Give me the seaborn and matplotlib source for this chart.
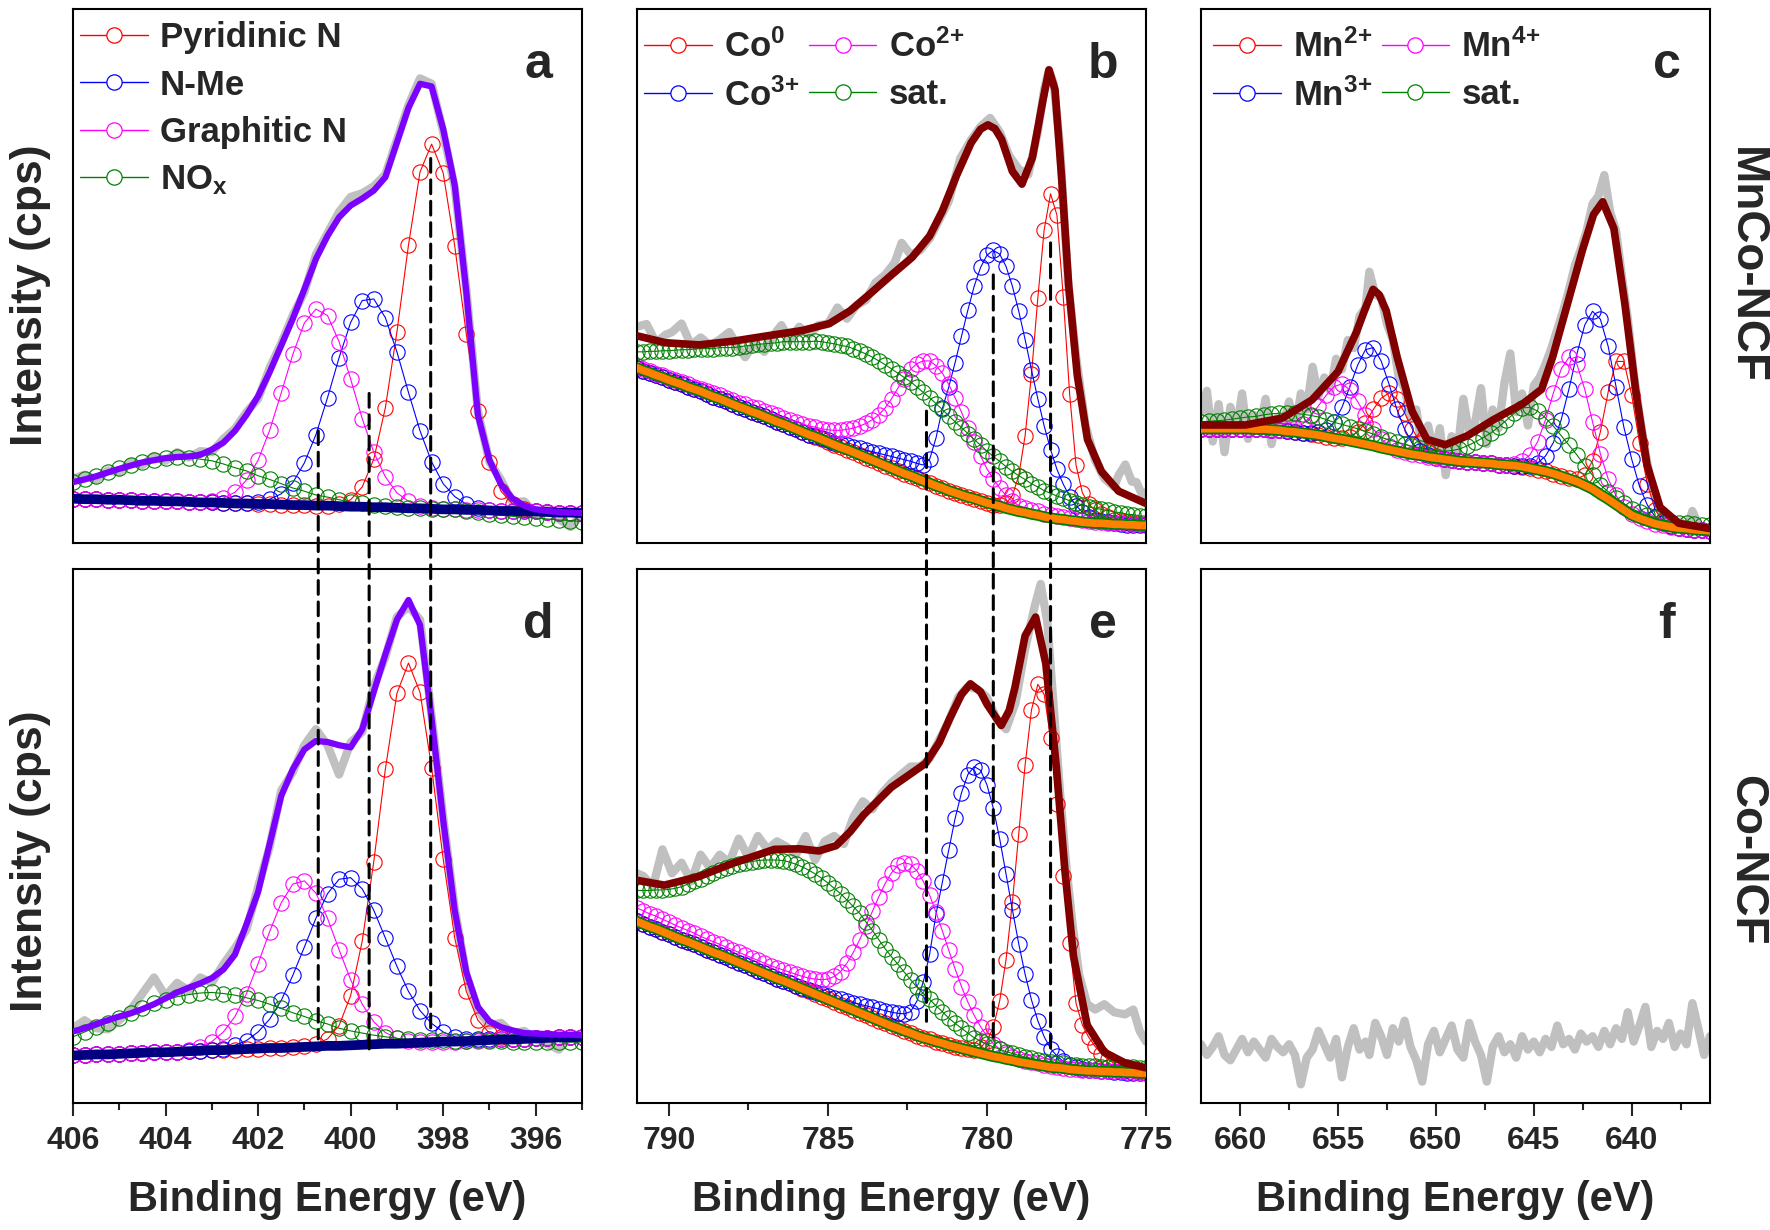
import numpy as np
import matplotlib
matplotlib.use("Agg")
import matplotlib.pyplot as plt
import matplotlib.patheffects as pe
from matplotlib.lines import Line2D
from matplotlib.patches import ConnectionPatch
import seaborn as sns

# ---------------------------------------------------------------
# data (intensity in % of the panel height)
# ---------------------------------------------------------------
# sampling energies of the fitted components
n_grid = np.linspace(406, 395, 45)    # N 1s, 0.25 eV
co_grid = np.linspace(791, 775, 81)   # Co 2p, 0.2 eV
mn_grid = np.linspace(662, 636, 66)   # Mn 2p, 0.4 eV

# --- a: N 1s, MnCo-NCF (component heights are above the background)
n_bg_a = [8.3, 8.2, 8.2, 8.1, 8.1, 8.0, 7.9, 7.9, 7.8, 7.8, 7.7, 7.6, 7.6, 7.5, 7.4,
          7.4, 7.3, 7.3, 7.2, 7.1, 7.1, 7.0, 7.0, 6.9, 6.8, 6.8, 6.7, 6.7, 6.6, 6.5,
          6.5, 6.4, 6.3, 6.3, 6.2, 6.2, 6.1, 6.0, 6.0, 5.9, 5.9, 5.8, 5.7, 5.7, 5.6]
n_pyr_a = [0, 0, 0, 0, 0, 0, 0, 0, 0, 0, 0, 0, 0, 0, 0, 0, 0, 0, 0, 0, 0, 0, 0,
           0.4, 1.3, 3.7, 9.0, 18.6, 32.9, 49.3, 63.0, 68.3, 63.0, 49.3, 32.9, 18.6,
           9.0, 3.7, 1.3, 0.4, 0.1, 0, 0, 0, 0]
n_nme_a = [0, 0, 0, 0, 0, 0, 0, 0, 0, 0, 0, 0, 0, 0, 0, 0.1, 0.35, 0.9, 2.0, 4.2,
           7.9, 13.3, 20.2, 27.8, 34.5, 38.6, 39.0, 35.5, 29.2, 21.7, 14.5, 8.8, 4.8,
           2.4, 1.05, 0.4, 0.15, 0, 0, 0, 0, 0, 0, 0, 0]
n_gra_a = [0, 0, 0, 0, 0, 0, 0, 0, 0, 0, 0, 0.1, 0.3, 0.9, 2.1, 4.4, 8.2, 13.8, 20.9,
           28.2, 34.1, 36.8, 35.6, 30.8, 23.9, 16.5, 10.3, 5.7, 2.8, 1.3, 0.5, 0.2,
           0, 0, 0, 0, 0, 0, 0, 0, 0, 0, 0, 0, 0]
n_nox_a = [3.1, 3.7, 4.4, 5.2, 5.9, 6.6, 7.2, 7.7, 8.1, 8.3, 8.3, 8.1, 7.8, 7.3, 6.7,
           6.1, 5.3, 4.6, 3.9, 3.2, 2.6, 2.0, 1.6, 1.2, 0.9, 0.6, 0.5, 0.3, 0.2, 0.1,
           0, 0, 0, 0, -0.2, -0.4, -0.6, -0.8, -1.0, -1.1, -1.2, -1.3, -1.4, -1.5, -1.6]
n_env_a = [11.4, 11.9, 12.5, 13.2, 13.9, 14.5, 15.1, 15.5, 15.9, 16.1, 16.2, 16.5, 17.5,
           18.8, 21.0, 24.0, 27.5, 32.0, 37.0, 42.0, 47.5, 53.2, 57.5, 61.0, 63.2, 64.5,
           66.0, 68.5, 75.0, 81.5, 86.0, 85.5, 77.5, 67.0, 47.0, 24.0, 15.5, 11.0, 8.3,
           7.0, 6.3, 6.0, 5.8, 5.7, 5.6]
n_raw_a = [12.0, 12.8, 11.8, 13.6, 13.2, 15.2, 14.6, 16.3, 15.4, 17.0, 16.0, 17.2, 17.0,
           19.5, 21.4, 24.5, 27.0, 32.8, 37.4, 42.6, 47.0, 54.0, 58.0, 62.0, 64.8, 65.5,
           66.8, 69.0, 75.5, 82.0, 87.0, 86.0, 77.0, 66.5, 47.5, 24.6, 15.2, 11.8, 7.6,
           7.8, 5.6, 6.6, 4.5, 3.0, 5.4]

# --- d: N 1s, Co-NCF
n_bg_d = [8.9, 9.0, 9.1, 9.1, 9.2, 9.3, 9.4, 9.5, 9.5, 9.6, 9.7, 9.8, 9.9, 9.9, 10.0,
          10.1, 10.2, 10.3, 10.3, 10.4, 10.5, 10.6, 10.7, 10.7, 10.8, 10.9, 11.0, 11.1,
          11.1, 11.2, 11.3, 11.4, 11.5, 11.5, 11.6, 11.7, 11.8, 11.9, 11.9, 12.0, 12.1,
          12.2, 12.3, 12.3, 12.4]
n_pyr_d = [0, 0, 0, 0, 0, 0, 0, 0, 0, 0, 0, 0, 0, 0, 0, 0, 0, 0, 0, 0,
           0.1, 0.4, 1.3, 3.8, 9.3, 19.4, 34.2, 51.4, 65.6, 71.2, 65.6, 51.4, 34.2,
           19.4, 9.3, 3.8, 1.3, 0.4, 0.1, 0, 0, 0, 0, 0, 0]
n_nme_d = [0, 0, 0, 0, 0, 0, 0, 0, 0, 0, 0, 0, 0.1, 0.3, 0.8, 1.6, 3.1, 5.4, 8.9, 13.5,
           18.7, 24.0, 28.5, 31.2, 31.4, 29.2, 25.1, 19.8, 14.5, 9.7, 6.0, 3.5, 1.8,
           0.9, 0.4, 0.2, 0.1, 0, 0, 0, 0, 0, 0, 0, 0]
n_gra_d = [0, 0, 0, 0, 0, 0, 0, 0, 0, 0, 0.3, 0.7, 1.6, 3.4, 6.2, 10.4, 15.9, 21.8,
           27.2, 30.6, 31.1, 28.7, 23.9, 18.0, 12.3, 7.6, 4.2, 2.1, 1.0, 0.4, 0.2,
           0, 0, 0, 0, 0, 0, 0, 0, 0, 0, 0, 0, 0, 0]
n_nox_d = [3.5, 4.3, 5.1, 5.9, 6.8, 7.6, 8.4, 9.2, 9.8, 10.3, 10.6, 10.8, 10.8, 10.6,
           10.2, 9.6, 9.0, 8.2, 7.4, 6.5, 5.7, 4.8, 4.1, 3.3, 2.7, 2.2, 1.7, 1.3, 1.0,
           0.7, 0.5, 0.4, 0.3, 0.2, 0.1, 0.1, -0.1, -0.3, -0.4, -0.5, -0.6, -0.7, -0.8,
           -0.9, -1.0]
n_env_d = [13.4, 14.0, 14.8, 15.5, 16.2, 16.8, 17.6, 18.5, 19.6, 20.7, 21.6, 22.4, 23.4,
           25.0, 27.8, 33.5, 39.5, 48.5, 57.5, 62.5, 66.2, 67.8, 67.6, 67.0, 66.6, 70.0,
           77.0, 84.0, 90.5, 94.2, 89.5, 72.0, 53.0, 36.0, 24.5, 18.0, 15.3, 14.2, 13.6,
           13.1, 13.0, 12.9, 12.8, 12.8, 12.7]
n_raw_d = [14.0, 15.5, 14.0, 13.8, 15.5, 17.5, 20.5, 23.5, 20.0, 22.5, 21.0, 23.5, 22.5,
           26.0, 29.0, 32.5, 40.5, 48.0, 58.5, 62.0, 67.0, 70.0, 67.0, 61.5, 67.5, 69.5,
           78.0, 83.5, 91.0, 93.0, 90.5, 72.5, 53.5, 36.5, 24.0, 17.5, 14.5, 15.0, 13.0,
           13.5, 12.0, 11.0, 10.0, 12.5, 13.0]

# --- b: Co 2p, MnCo-NCF
co_bg_b = [32.8, 32.3, 31.9, 31.4, 31.0, 30.5, 30.1, 29.7, 29.2, 28.8, 28.4, 27.9, 27.4,
           27.0, 26.5, 26.0, 25.5, 25.1, 24.6, 24.2, 23.7, 23.2, 22.7, 22.3, 21.8, 21.3,
           20.8, 20.3, 19.9, 19.4, 18.9, 18.4, 17.9, 17.5, 17.0, 16.5, 16.0, 15.5, 15.0,
           14.5, 14.0, 13.5, 13.0, 12.6, 12.1, 11.6, 11.2, 10.7, 10.3, 9.8, 9.4, 9.0,
           8.6, 8.3, 7.9, 7.5, 7.2, 6.9, 6.5, 6.2, 5.9, 5.7, 5.4, 5.2, 4.9, 4.7, 4.5,
           4.4, 4.2, 4.1, 3.9, 3.8, 3.7, 3.7, 3.6, 3.5, 3.5, 3.4, 3.4, 3.3, 3.3]
co_c0_b = [0, 0, 0, 0, 0, 0, 0, 0, 0, 0, 0, 0, 0, 0, 0, 0, 0, 0, 0, 0, 0, 0, 0, 0, 0,
           0, 0, 0, 0, 0, 0, 0, 0, 0, 0, 0, 0, 0, 0, 0, 0, 0, 0, 0, 0, 0, 0, 0, 0, 0,
           0, 0, 0, 0, 0, 0, 0, 0.3, 0.9, 2.7, 6.7, 14.4, 26.2, 40.7, 53.8, 60.7, 56.9,
           41.6, 23.7, 10.5, 5.5, 3.5, 2.4, 1.7, 1.2, 0.9, 0.7, 0.5, 0.4, 0.3, 0.3]
co_c3_b = [0, 0, 0, 0, 0, 0, 0, 0, 0, 0, 0, 0, 0, 0, 0, 0, 0, 0, 0, 0, 0, 0, 0, 0, 0,
           0, 0, 0, 0.1, 0.2, 0.3, 0.4, 0.6, 0.8, 1.0, 1.2, 1.4, 1.6, 1.8, 2.0, 2.2,
           2.4, 2.6, 2.7, 2.8, 3.0, 4.5, 9.0, 14.9, 19.4, 24.4, 29.7, 35.0, 39.8, 43.7,
           46.4, 47.6, 47.2, 45.3, 41.9, 37.5, 32.4, 27.0, 21.8, 17.0, 12.8, 9.3, 6.6,
           4.5, 2.9, 1.9, 1.1, 0.7, 0.4, 0.3, 0.2, 0.1, 0, 0, 0, 0]
co_c2_b = [0.3, 0.3, 0.3, 0.3, 0.4, 0.4, 0.4, 0.4, 0.5, 0.5, 0.5, 0.6, 0.6, 0.7, 0.7,
           0.8, 0.8, 0.9, 0.9, 1.0, 1.0, 1.1, 1.2, 1.2, 1.3, 1.4, 1.5, 1.6, 1.8, 2.0,
           2.3, 2.7, 3.2, 3.8, 4.5, 5.4, 6.4, 7.6, 9.0, 10.8, 13.0, 15.5, 17.8, 19.9,
           21.5, 22.5, 22.9, 22.5, 21.5, 19.9, 17.8, 15.5, 13.0, 10.6, 8.4, 6.4, 4.8,
           3.4, 2.4, 1.6, 1.1, 0.9, 0.8, 0.7, 0.6, 0.5, 0.5, 0.5, 0.4, 0.4, 0.4, 0.3,
           0.3, 0.3, 0.2, 0.2, 0.2, 0.2, 0.2, 0.2, 0.2]
co_sat_b = [3.0, 3.5, 4.0, 4.5, 5.0, 5.5, 6.0, 6.5, 7.0, 7.5, 8.0, 8.5, 9.0, 9.6, 10.1,
            10.6, 11.2, 11.8, 12.4, 13.0, 13.6, 14.2, 14.8, 15.4, 15.9, 16.4, 16.9, 17.4,
            17.9, 18.3, 18.6, 18.9, 19.1, 19.3, 19.4, 19.4, 19.4, 19.3, 19.1, 18.9, 18.6,
            18.3, 18.0, 17.6, 17.1, 16.6, 16.0, 15.4, 14.7, 14.0, 13.3, 12.6, 11.9, 11.1,
            10.4, 9.7, 9.0, 8.4, 7.8, 7.2, 6.7, 6.2, 5.7, 5.3, 4.9, 4.6, 4.3, 4.0, 3.7,
            3.4, 3.2, 3.0, 2.8, 2.6, 2.5, 2.3, 2.2, 2.0, 1.9, 1.8, 1.7]
co_env_b_x = [791.0, 790.1, 789.05, 787.97, 786.9, 785.8, 784.95, 784.3, 783.65, 783.0,
              782.35, 781.8, 781.4, 780.95, 780.5, 780.2, 779.97, 779.75, 779.54, 779.2,
              778.9, 778.57, 778.24, 778.05, 777.86, 777.65, 777.43, 777.16, 776.84,
              776.4, 775.86, 775.0]
co_env_b_y = [38.8, 37.5, 37.1, 37.8, 38.8, 39.8, 41.1, 43.5, 46.8, 50.2, 53.5, 57.5,
              62.2, 68.9, 74.9, 77.5, 78.3, 77.6, 75.6, 69.6, 67.2, 72.2, 82.9, 88.6,
              84.9, 68.2, 48.2, 31.4, 19.4, 13.4, 9.7, 7.4]
co_raw_b_x = [791.0, 790.7, 790.4, 790.1, 789.9, 789.6, 789.3, 789.0, 788.7, 788.4,
              788.1, 787.8, 787.6, 787.3, 787.0, 786.7, 786.46, 786.2, 785.9, 785.6,
              785.3, 785.0, 784.7, 784.4, 784.1, 783.8, 783.5, 783.2, 782.9, 782.68,
              782.4, 782.1, 781.8, 781.5, 781.2, 780.84, 780.5, 780.2, 779.9, 779.6,
              779.3, 779.0, 778.7, 778.4, 778.2, 778.05, 777.9, 777.7, 777.45, 777.2,
              776.9, 776.6, 776.3, 776.0, 775.86, 775.65, 775.45, 775.3, 775.1, 775.0]
co_raw_b_y = [40.5, 41.0, 37.5, 39.0, 39.5, 41.1, 37.0, 38.5, 37.0, 38.1, 39.5, 36.5,
              34.8, 37.5, 35.8, 39.0, 40.8, 38.0, 40.5, 39.0, 40.8, 41.0, 44.1, 42.0,
              44.5, 45.5, 48.8, 50.2, 52.5, 56.2, 54.0, 54.8, 57.0, 60.5, 64.0, 72.0,
              75.5, 78.0, 79.6, 77.0, 72.5, 70.0, 69.0, 77.0, 85.0, 88.6, 86.0, 74.0,
              49.0, 35.0, 22.0, 15.5, 12.0, 10.5, 12.7, 14.7, 11.5, 11.4, 8.7, 9.5]

# --- e: Co 2p, Co-NCF
co_bg_e = [34.0, 33.5, 33.0, 32.6, 32.1, 31.6, 31.1, 30.6, 30.2, 29.7, 29.2, 28.7, 28.2,
           27.8, 27.3, 26.8, 26.3, 25.8, 25.3, 24.8, 24.3, 23.8, 23.3, 22.9, 22.4, 21.9,
           21.4, 20.9, 20.4, 19.9, 19.4, 18.9, 18.4, 17.9, 17.4, 16.9, 16.4, 15.9, 15.4,
           14.9, 14.4, 14.0, 13.5, 13.1, 12.6, 12.2, 11.9, 11.5, 11.2, 10.8, 10.5, 10.2,
           9.9, 9.6, 9.3, 9.0, 8.7, 8.5, 8.2, 8.0, 7.7, 7.5, 7.3, 7.1, 6.9, 6.7, 6.6,
           6.5, 6.3, 6.2, 6.1, 6.0, 6.0, 5.9, 5.9, 5.8, 5.8, 5.7, 5.7, 5.6, 5.6]
co_c0_e = [0, 0, 0, 0, 0, 0, 0, 0, 0, 0, 0, 0, 0, 0, 0, 0, 0, 0, 0, 0, 0, 0, 0, 0, 0,
           0, 0, 0, 0, 0, 0, 0, 0, 0, 0, 0, 0, 0, 0, 0, 0, 0, 0, 0, 0, 0, 0, 0, 0, 0,
           0, 0.1, 0.2, 0.4, 1.1, 2.6, 5.5, 10.6, 18.6, 29.6, 42.7, 55.8, 66.3, 71.3,
           69.6, 61.6, 49.4, 36.0, 23.7, 12.5, 8.5, 6.3, 4.6, 3.3, 2.3, 1.6, 1.1, 0.8,
           0.6, 0.4, 0.3]
co_c3_e = [0, 0, 0, 0, 0, 0, 0, 0, 0, 0, 0, 0, 0, 0, 0, 0, 0, 0, 0, 0, 0, 0, 0, 0, 0,
           0.1, 0.2, 0.3, 0.4, 0.5, 0.6, 0.8, 1.0, 1.2, 1.4, 1.6, 1.8, 2.0, 2.2, 2.4,
           2.6, 2.8, 3.2, 4.0, 6.5, 10.5, 16.0, 23.9, 30.2, 36.6, 42.8, 47.9, 51.6, 53.4,
           53.0, 50.6, 46.5, 41.0, 34.7, 28.2, 22.1, 16.6, 12.0, 8.3, 5.5, 3.5, 2.2, 1.3,
           0.8, 0.5, 0.3, 0.2, 0.1, 0, 0, 0, 0, 0, 0, 0, 0]
co_c2_e = [2.5, 2.5, 2.4, 2.4, 2.3, 2.3, 2.2, 2.2, 2.1, 2.1, 2.0, 2.0, 2.0, 1.9, 1.9,
           1.9, 1.9, 1.9, 1.9, 1.9, 1.9, 1.9, 2.0, 2.0, 2.1, 2.2, 2.3, 2.5, 2.8, 3.2,
           3.8, 4.8, 6.2, 8.3, 10.8, 13.7, 16.8, 20.0, 23.2, 26.2, 28.7, 30.5, 31.5,
           31.6, 30.9, 29.3, 27.0, 24.2, 21.0, 17.8, 14.6, 11.6, 9.0, 6.8, 5.0, 3.5,
           2.4, 1.6, 1.0, 0.7, 0.5, 0.4, 0.3, 0.3, 0.2, 0.2, 0.2, 0.1, 0.1, 0.1, 0.1,
           0.1, 0.1, 0.1, 0.1, 0.1, 0.1, 0.1, 0.1, 0.1, 0.1]
co_sat_e = [5.8, 6.3, 6.8, 7.3, 7.8, 8.4, 9.1, 9.9, 10.8, 11.8, 12.8, 13.8, 14.8, 15.8,
            16.8, 17.6, 18.4, 19.2, 19.9, 20.6, 21.2, 21.7, 22.2, 22.5, 22.7, 22.8, 22.8,
            22.7, 22.5, 22.2, 21.8, 21.3, 20.8, 20.1, 19.4, 18.6, 17.5, 16.4, 15.2, 14.0,
            13.0, 12.0, 11.0, 10.0, 9.1, 8.3, 7.5, 6.7, 5.9, 5.1, 4.4, 3.8, 3.2, 2.6,
            2.3, 2.0, 1.8, 1.6, 1.4, 1.3, 1.2, 1.1, 1.1, 1.0, 1.0, 1.0, 0.9, 0.9, 0.9,
            0.9, 0.9, 0.9, 0.9, 0.9, 0.9, 1.0, 1.0, 1.0, 1.0, 1.0, 1.0]
co_env_e_x = [791.0, 790.14, 789.06, 787.98, 786.68, 785.9, 785.28, 784.74, 784.3, 783.87,
              783.01, 781.93, 781.5, 781.17, 780.8, 780.52, 780.2, 779.99, 779.55, 779.3,
              779.12, 778.8, 778.47, 778.15, 777.82, 777.55, 777.28, 776.85, 776.31,
              775.66, 775.02]
co_env_e_y = [41.7, 40.8, 42.4, 44.9, 47.5, 47.6, 47.2, 48.2, 50.8, 54.0, 59.1, 63.6,
              67.5, 72.0, 76.5, 78.5, 77.0, 74.6, 70.7, 73.5, 77.8, 87.5, 91.0, 82.3,
              63.0, 43.6, 27.5, 14.6, 9.5, 7.5, 6.6]
co_raw_e_x = [791.0, 790.8, 790.5, 790.2, 789.9, 789.6, 789.3, 789.0, 788.7, 788.4,
              788.1, 787.8, 787.5, 787.2, 786.9, 786.6, 786.3, 786.0, 785.7, 785.4,
              785.1, 784.8, 784.5, 784.2, 783.9, 783.6, 783.3, 783.0, 782.7, 782.4,
              782.1, 781.8, 781.5, 781.2, 780.9, 780.6, 780.3, 780.0, 779.7, 779.4,
              779.1, 778.8, 778.5, 778.31, 778.1, 777.9, 777.7, 777.5, 777.3, 777.1,
              776.85, 776.6, 776.31, 776.0, 775.66, 775.4, 775.2, 775.0]
co_raw_e_y = [43.0, 42.5, 40.5, 47.5, 43.0, 45.0, 41.5, 46.5, 44.0, 46.5, 45.0, 49.5,
              46.0, 50.0, 47.5, 49.0, 48.0, 46.5, 50.0, 45.5, 49.0, 50.0, 48.5, 53.5,
              56.5, 55.0, 58.0, 60.0, 61.5, 63.0, 63.0, 64.5, 68.0, 71.5, 76.0, 78.0,
              77.5, 76.0, 72.0, 70.0, 75.0, 85.0, 93.0, 97.2, 90.0, 74.0, 58.0, 44.0,
              33.0, 24.0, 18.5, 17.5, 18.5, 17.0, 16.6, 17.5, 13.5, 11.5]

# --- c: Mn 2p, MnCo-NCF
mn_bg_c = [21.4, 21.4, 21.4, 21.4, 21.4, 21.4, 21.4, 21.3, 21.3, 21.2, 21.1, 20.9, 20.8,
           20.6, 20.4, 20.2, 19.9, 19.6, 19.4, 19.1, 18.8, 18.5, 18.2, 17.8, 17.5, 17.2,
           16.9, 16.6, 16.4, 16.1, 15.9, 15.7, 15.5, 15.3, 15.2, 15.1, 15.0, 14.9, 14.7,
           14.6, 14.5, 14.3, 14.0, 13.7, 13.4, 13.0, 12.5, 12.0, 11.5, 10.8, 10.1, 9.1,
           8.2, 7.2, 6.2, 5.2, 4.6, 4.1, 3.6, 3.3, 3.0, 2.8, 2.7, 2.5, 2.4, 2.3]
mn_2_c = [0, 0, 0, 0, 0, 0, 0, 0, 0, 0, 0, 0, 0, 0, 0, 0, 0, 0.1, 0.3, 0.8, 2.0, 4.0,
          6.8, 9.3, 10.6, 9.8, 7.5, 4.7, 2.4, 1.0, 0.4, 0.1, 0, 0, 0, 0, 0, 0, 0, 0, 0,
          0, 0, 0, 0, 0, 0, 0.1, 0.5, 1.9, 5.3, 11.7, 20.1, 26.8, 27.8, 22.5, 14.1, 6.9,
          2.6, 0.8, 0.2, 0, 0, 0, 0, 0]
mn_3_c = [0, 0, 0, 0, 0, 0, 0, 0, 0, 0, 0, 0, 0, 0, 0.2, 0.5, 1.3, 3.0, 6.0, 10.1, 14.5,
          17.7, 18.4, 16.3, 12.3, 7.9, 4.4, 2.0, 0.8, 0.3, 0.1, 0, 0, 0, 0, 0, 0, 0, 0, 0,
          0, 0.2, 0.5, 1.3, 2.9, 5.8, 10.6, 16.9, 23.9, 30.0, 33.3, 32.8, 28.6, 22.1,
          15.5, 10.5, 6.0, 3.0, 1.3, 0.4, 0.1, 0, 0, 0, 0, 0]
mn_4_c = [0, 0, 0, 0, 0, 0, 0, 0, 0, 0, 0.1, 0.3, 0.8, 1.7, 3.3, 5.5, 7.8, 9.7, 10.4,
          9.6, 7.7, 5.4, 3.2, 1.7, 0.7, 0.3, 0.1, 0, 0, 0, 0, 0, 0, 0, 0, 0, 0, 0, 0, 0.1,
          0.3, 1.0, 2.5, 5.3, 9.7, 15.1, 20.1, 22.8, 22.0, 18.0, 12.6, 7.6, 3.8, 1.7,
          0.6, 0.2, 0, 0, 0, 0, 0, 0, 0, 0, 0, 0]
mn_sat_c = [1.3, 1.4, 1.5, 1.6, 1.8, 2.0, 2.2, 2.4, 2.7, 3.0, 3.2, 3.4, 3.5, 3.5, 3.5,
            3.4, 3.2, 3.0, 2.8, 2.7, 2.6, 2.4, 2.2, 2.0, 1.8, 1.7, 1.6, 1.5, 1.4, 1.4,
            1.4, 1.5, 1.8, 2.3, 3.0, 3.8, 4.7, 5.7, 7.0, 8.4, 9.8, 11.0, 11.4, 11.0,
            10.0, 8.9, 7.6, 6.3, 5.0, 3.7, 2.6, 1.8, 1.4, 1.2, 1.2, 1.2, 1.2, 1.1, 1.1,
            1.0, 1.0, 1.0, 1.0, 1.0, 1.0, 1.0]
mn_env_c_x = [662.0, 659.73, 657.84, 656.33, 655.0, 654.06, 653.6, 653.21, 652.9, 652.54,
              651.98, 651.22, 650.46, 649.52, 648.38, 647.06, 645.55, 644.6, 644.04,
              643.28, 642.52, 641.95, 641.48, 640.91, 640.35, 639.78, 639.22, 638.55,
              637.6, 636.0]
mn_env_c_y = [22.1, 22.1, 23.4, 26.8, 32.1, 39.5, 44.0, 47.5, 46.5, 43.5, 34.8, 24.7,
              19.4, 18.4, 20.1, 23.1, 26.1, 28.8, 34.8, 44.8, 54.8, 61.5, 63.9, 58.9,
              44.8, 28.1, 14.7, 6.7, 3.7, 2.7]
mn_raw_x = [662.0, 661.7, 661.4, 661.1, 660.8, 660.5, 660.2, 659.9, 659.6, 659.3, 659.0,
            658.7, 658.4, 658.1, 657.8, 657.5, 657.2, 656.9, 656.6, 656.3, 656.0, 655.7,
            655.4, 655.1, 654.8, 654.5, 654.2, 653.9, 653.6, 653.4, 653.1, 652.8, 652.5,
            652.2, 651.9, 651.6, 651.3, 651.0, 650.7, 650.4, 650.1, 649.8, 649.5, 649.2,
            648.9, 648.6, 648.3, 648.0, 647.7, 647.4, 647.1, 646.8, 646.5, 646.2, 645.9,
            645.6, 645.3, 645.0, 644.7, 644.4, 644.1, 643.8, 643.5, 643.2, 642.9, 642.6,
            642.3, 642.0, 641.7, 641.4, 641.1, 640.8, 640.5, 640.2, 639.9, 639.6, 639.3,
            639.0, 638.7, 638.4, 638.1, 637.8, 637.5, 637.2, 636.9, 636.6, 636.3, 636.0]
mn_raw_c_y = [24.5, 28.5, 19.0, 26.0, 17.0, 25.5, 21.0, 28.0, 19.5, 24.0, 21.5, 27.0,
              18.5, 23.5, 22.0, 26.5, 21.0, 28.0, 25.0, 33.0, 27.5, 31.0, 28.5, 34.5,
              32.5, 38.0, 36.5, 42.5, 44.0, 50.8, 46.5, 46.0, 41.0, 38.0, 31.0, 29.0,
              23.5, 25.0, 17.5, 22.0, 16.5, 21.5, 12.7, 20.0, 17.0, 27.0, 20.5, 22.5,
              29.0, 18.5, 25.0, 21.5, 30.0, 35.5, 24.5, 28.0, 22.0, 29.5, 31.0, 33.5,
              36.5, 40.0, 43.5, 47.5, 52.0, 55.0, 58.5, 63.5, 65.0, 68.9, 62.0, 58.5,
              50.0, 42.0, 32.0, 24.0, 17.0, 11.0, 7.5, 5.0, 4.5, 3.0, 4.0, 2.5, 6.0,
              3.5, 2.0, 3.0]
# --- f: Mn 2p, Co-NCF (raw signal only)
mn_raw_f_y = [11.0, 9.0, 10.5, 12.5, 9.0, 8.0, 10.0, 12.0, 9.5, 11.5,
              10.0, 8.5, 12.0, 10.5, 9.5, 11.0, 9.0, 3.5, 8.5, 10.0,
              13.5, 11.0, 8.5, 12.0, 4.8, 10.5, 14.0, 10.0, 11.5, 9.0,
              15.0, 12.5, 9.0, 14.0, 11.5, 15.4, 10.5, 8.0, 4.0, 11.0,
              13.5, 9.5, 12.0, 14.5, 10.0, 8.5, 15.0, 11.5, 9.0, 4.0,
              10.5, 12.5, 9.5, 11.0, 8.5, 12.5, 10.0, 11.5, 9.5, 12.0,
              10.5, 14.5, 11.0, 12.0, 10.0, 13.0, 11.5, 12.5, 10.5, 13.5,
              11.0, 14.0, 12.0, 17.0, 11.5, 14.5, 18.0, 10.5, 13.5, 12.0,
              15.0, 10.5, 13.0, 11.0, 18.7, 14.0, 9.0, 12.5]

# guide lines: energy, start in the upper panel, end in the lower panel
n_guides = [(400.7, 21, 12), (399.6, 28, 10), (398.27, 72, 13.3)]
co_guides = [(781.9, 24.7, 15.3), (779.8, 50.2, 12.1), (778.0, 56.2, 9.5)]

n_labels = ["Pyridinic N", "N-Me", "Graphitic N", r"NO$_{x}$"]
co_labels = [r"Co$^{0}$", r"Co$^{3\!+}$", r"Co$^{2\!+}$", "sat."]
mn_labels = [r"Mn$^{2\!+}$", r"Mn$^{3\!+}$", r"Mn$^{4\!+}$", "sat."]

RED, BLUE, MAG, GRN = "#ff0000", "#0000ff", "#ff00ff", "#008000"
GRAY, PURPLE, WINE, NAVY, ORANGE = "#c0c0c0", "#7b00ff", "#800000", "#000080", "#ff8000"

# ---------------------------------------------------------------
sns.set_theme(style="white")
plt.rcParams["font.family"] = ["Liberation Sans", "DejaVu Sans"]
plt.rcParams["font.weight"] = "bold"
plt.rcParams["mathtext.fontset"] = "custom"
plt.rcParams["mathtext.rm"] = "Liberation Sans:bold"
plt.rcParams["mathtext.it"] = "Liberation Sans:bold"
plt.rcParams["mathtext.bf"] = "Liberation Sans:bold"
plt.rcParams["mathtext.default"] = "rm"

fig = plt.figure(figsize=(17.7, 12.3), dpi=100)
lefts = [73 / 1770, 637 / 1770, 1201 / 1770]
w = 509 / 1770
h = 534 / 1230
bottoms = [1 - 543 / 1230, 1 - 1103 / 1230]
axs = [[fig.add_axes([l, b, w, h]) for l in lefts] for b in bottoms]
(ax_a, ax_b, ax_c), (ax_d, ax_e, ax_f) = axs


def fit_panel(ax, grid, base, parts, colors, env_x, env_y, env_color, env_lw,
              raw_x, raw_y, base_color, base_lw, outline=False):
    sns.lineplot(x=raw_x, y=raw_y, ax=ax, color=GRAY, lw=6, sort=False,
                 estimator=None, zorder=1)
    base = np.asarray(base)
    for part, col in zip(parts, colors):
        sns.lineplot(x=grid, y=base + np.asarray(part), ax=ax, color=col, lw=0.8,
                     marker="o", markersize=11, sort=False, estimator=None, zorder=2)
        ln = ax.lines[-1]
        ln.set_markerfacecolor("none")
        ln.set_markeredgecolor(col)
        ln.set_markeredgewidth(0.8)
    sns.lineplot(x=grid, y=base, ax=ax, color=base_color, lw=base_lw, sort=False,
                 estimator=None, zorder=3)
    if outline:
        ax.lines[-1].set_path_effects([pe.Stroke(linewidth=base_lw + 2.5, foreground=GRN),
                                       pe.Normal()])
    sns.lineplot(x=env_x, y=env_y, ax=ax, color=env_color, lw=env_lw, sort=False,
                 estimator=None, zorder=4)


comp_cols = [RED, BLUE, MAG, GRN]
fit_panel(ax_a, n_grid, n_bg_a, [n_pyr_a, n_nme_a, n_gra_a, n_nox_a], comp_cols,
          n_grid, n_env_a, PURPLE, 4.5, n_grid, n_raw_a, NAVY, 7)
fit_panel(ax_d, n_grid, n_bg_d, [n_pyr_d, n_nme_d, n_gra_d, n_nox_d], comp_cols,
          n_grid, n_env_d, PURPLE, 4.5, n_grid, n_raw_d, NAVY, 7)
fit_panel(ax_b, co_grid, co_bg_b, [co_c0_b, co_c3_b, co_c2_b, co_sat_b], comp_cols,
          co_env_b_x, co_env_b_y, WINE, 5.5, co_raw_b_x, co_raw_b_y, ORANGE, 5.5, True)
fit_panel(ax_e, co_grid, co_bg_e, [co_c0_e, co_c3_e, co_c2_e, co_sat_e], comp_cols,
          co_env_e_x, co_env_e_y, WINE, 5.5, co_raw_e_x, co_raw_e_y, ORANGE, 5.5, True)
fit_panel(ax_c, mn_grid, mn_bg_c, [mn_2_c, mn_3_c, mn_4_c, mn_sat_c], comp_cols,
          mn_env_c_x, mn_env_c_y, WINE, 5.5, mn_raw_x, mn_raw_c_y, ORANGE, 5.5, True)
sns.lineplot(x=mn_raw_x, y=mn_raw_f_y, ax=ax_f, color=GRAY, lw=6, sort=False,
             estimator=None)

xlims = [(406, 395), (791, 775), (662, 636)]
majors = [[406, 404, 402, 400, 398, 396], [790, 785, 780, 775], [660, 655, 650, 645, 640]]
minors = [[405, 403, 401, 399, 397, 395], [787.5, 782.5, 777.5],
          [657.5, 652.5, 647.5, 642.5, 637.5]]
for row, axrow in enumerate(axs):
    for col, ax in enumerate(axrow):
        ax.set_xlim(*xlims[col])
        ax.set_ylim(0, 100)
        ax.set_yticks([])
        ax.set_ylabel("")
        for sp in ax.spines.values():
            sp.set_color("black")
            sp.set_linewidth(1.5)
        if row == 0:
            ax.set_xticks([])
            ax.set_xlabel("")
        else:
            ax.set_xticks(majors[col])
            ax.set_xticklabels([str(v) for v in majors[col]])
            ax.set_xticks(minors[col], minor=True)
            ax.tick_params(axis="x", which="major", direction="out", length=9.5,
                           width=1.5, labelsize=23, pad=7, bottom=True)
            ax.tick_params(axis="x", which="minor", direction="out", length=5,
                           width=1.5, bottom=True)
            ax.set_xlabel("Binding Energy (eV)", fontsize=30, fontweight="bold",
                          labelpad=17)

for ax, letter in zip([ax_a, ax_b, ax_c, ax_d, ax_e, ax_f], "abcdef"):
    ax.text(0.915, 0.87, letter, transform=ax.transAxes, fontsize=36,
            fontweight="bold", ha="center", va="baseline")


def add_legend(ax, labels, ncol, anchor):
    handles = [Line2D([], [], color=c, lw=1.0, marker="o", markersize=11,
                      markerfacecolor="white", markeredgecolor=c, markeredgewidth=0.9)
               for c in comp_cols]
    ax.legend(handles, labels, loc="upper left", bbox_to_anchor=anchor, ncol=ncol,
              frameon=False, prop={"size": 25, "weight": "bold"}, handlelength=1.95,
              handletextpad=0.35, labelspacing=0.41, columnspacing=0.25,
              borderpad=0, borderaxespad=0)


add_legend(ax_a, n_labels, 1, (0.014, 0.977))
add_legend(ax_b, co_labels, 2, (0.014, 0.962))
add_legend(ax_c, mn_labels, 2, (0.024, 0.962))

for top, bot, guides in [(ax_a, ax_d, n_guides), (ax_b, ax_e, co_guides)]:
    for x, ya, yb in guides:
        con = ConnectionPatch(xyA=(x, ya), coordsA=top.transData, xyB=(x, yb),
                              coordsB=bot.transData, color="black", lw=2.2,
                              linestyle=(0, (4.5, 2.5)), zorder=10)
        fig.add_artist(con)

for yc in [1 - 295 / 1230, 1 - 861 / 1230]:
    fig.text(31 / 1770, yc, "Intensity (cps)", rotation=90, fontsize=32,
             fontweight="bold", ha="center", va="center")
fig.text(1746 / 1770, 1 - 265 / 1230, "MnCo-NCF", rotation=270, fontsize=33,
         fontweight="bold", ha="center", va="center")
fig.text(1746 / 1770, 1 - 860 / 1230, "Co-NCF", rotation=270, fontsize=33,
         fontweight="bold", ha="center", va="center")

fig.savefig("out.png", dpi=100)
